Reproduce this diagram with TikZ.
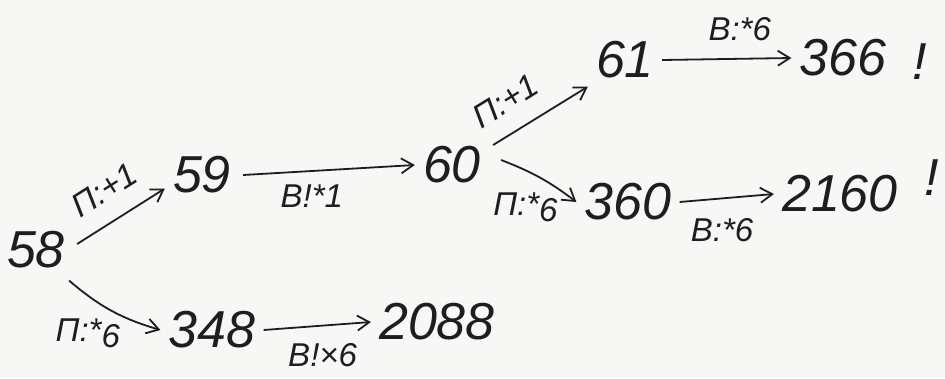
\documentclass[tikz,border=0pt]{standalone}
\usepackage{fontspec}
\setmainfont{Liberation Sans}
\usetikzlibrary{arrows.meta}
\definecolor{ink}{HTML}{1E1E1E}
\definecolor{paper}{HTML}{F7F7F5}
\tikzset{
  num/.style={font=\itshape\fontsize{52}{52}\selectfont, text=ink, inner sep=8pt},
  lab/.style={font=\itshape\fontsize{33}{33}\selectfont, text=ink, inner sep=3pt},
  arr/.style={draw=ink, line width=1.8pt, -{Straight Barb[length=12pt,width=15pt,line width=1.8pt]}},
}
\begin{document}
\begin{tikzpicture}[x=1pt,y=-1pt]
\fill[paper] (0,0) rectangle (945,378);
\useasboundingbox (0,0) rectangle (945,378);
\node[num] (n58) at (36,250) {58};
\node[num] (n59) at (202,175) {59};
\node[num] (n348) at (212,330) {348};
\node[num] (n2088) at (437,322) {2088};
\node[num] (n60) at (452,165) {60};
\node[num] (n61) at (625,60) {61};
\node[num] (n366) at (843,58) {366};
\node[num] (e1) at (920,62) {!};
\node[num] (n360) at (628,202) {360};
\node[num] (n2160) at (840,194) {2160};
\node[num] (e2) at (932,178) {!};

\draw[arr] (n58.east) ++(4,-6) -- (n59.200)
  node[lab, sloped, above=16pt, pos=0.5] (l1) {П:+1};
\draw[arr] (n58.south east) ++(-4,4) to[bend right=12]
  node[lab, below left, pos=0.5, xshift=12pt, yshift=-4pt] (l2) {П:*\raisebox{-0.35ex}{6}} (n348.west);
\draw[arr] (n348.east) -- (n2088.west)
  node[lab, below, pos=0.55, yshift=-14pt] (l3) {В!×6};
\draw[arr] (n59.east) ++(4,0) -- (n60.west)
  node[lab, below, pos=0.4, yshift=-10pt] (l4) {В!*1};
\draw[arr] (n60.east) ++(4,-20) -- (n61.south west)
  node[lab, sloped, above=16pt, pos=0.3] (l5) {П:+1};
\draw[arr] (n60.east) ++(12,-5) to[bend left=8]
  node[lab, below left, pos=0.4, xshift=28pt, yshift=-15pt] (l7) {П:*\raisebox{-0.35ex}{6}} (n360.west);
\draw[arr] (n61.east) -- (n366.west)
  node[lab, above, pos=0.6, yshift=14pt] (l6) {В:*6};
\draw[arr] (n360.east) -- (n2160.west)
  node[lab, below, pos=0.45, yshift=-16pt] (l8) {В:*6};
\end{tikzpicture}
\end{document}
